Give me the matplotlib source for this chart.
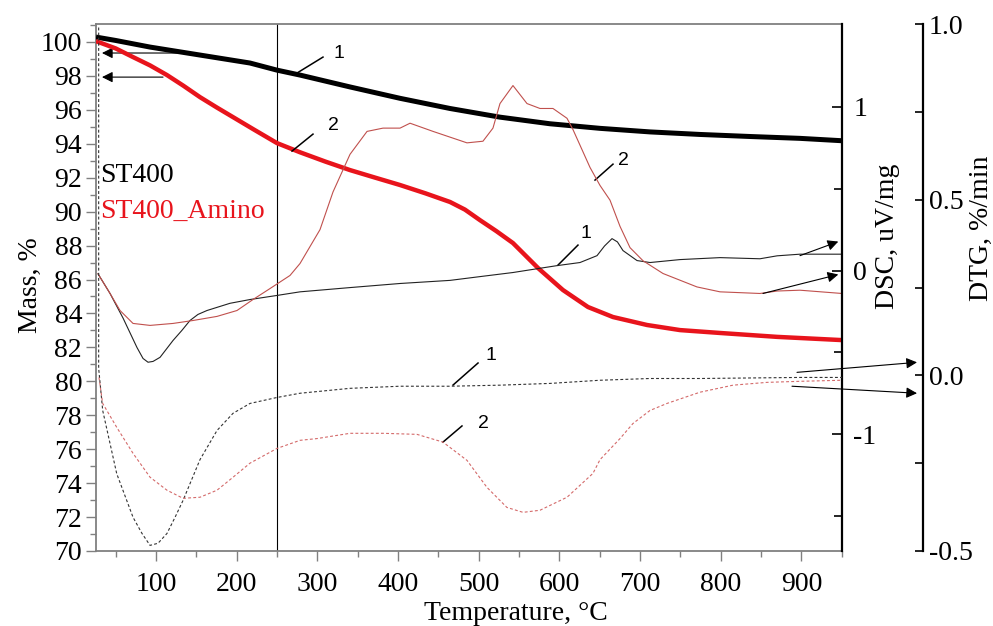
import numpy as np
import matplotlib.pyplot as plt
from matplotlib.ticker import MultipleLocator, FixedLocator, FormatStrFormatter

plt.rcParams['font.family'] = ['Liberation Serif', 'DejaVu Serif']
plt.rcParams['axes.unicode_minus'] = False

# ---- values ----
# mass (TG), %
temp_m1 = [25.6, 50, 92.6, 154.5, 216.5, 250, 278.5, 340.5, 402.5, 464.5, 526.4, 588.4, 650.4, 712.4, 774.4,
           836.3, 898.3, 950.4]
mass_st400 = [100.29, 100.09, 99.70, 99.23, 98.76, 98.34, 98.05, 97.35, 96.68, 96.08, 95.57, 95.18, 94.91, 94.70,
              94.55, 94.43, 94.32, 94.18]

temp_m2 = [25.6, 50, 71.5, 92.6, 113.6, 134, 154.5, 175, 195.5, 222, 250, 278.5, 310, 340.5, 372, 402.5, 434,
           464.5, 483, 501.6, 522, 542.5, 573.5, 604.5, 635.5, 666.5, 708.7, 749.6, 799.2, 870, 950.4]
mass_amino = [100.05, 99.62, 99.11, 98.62, 98.05, 97.42, 96.75, 96.15, 95.57, 94.82, 94.04, 93.50, 92.95, 92.45,
              92.00, 91.57, 91.08, 90.57, 90.12, 89.50, 88.85, 88.15, 86.68, 85.38, 84.38, 83.79, 83.32, 83.02,
              82.85, 82.62, 82.43]

# DSC, uV/mg
temp_dsc1 = [28.1, 43.0, 59.1, 76.4, 83.9, 90.1, 96.3, 105.0, 121.1, 132, 142.1, 152, 163.2, 191.7, 216.5, 250,
             278.5, 340.5, 402.5, 464.5, 501.6, 542.5, 573.5, 597, 625.6, 646.7, 656, 665.3, 672, 678.9, 696.3,
             712.4, 749.6, 799.2, 848.7, 870, 898.3, 950.4]
dsc_st400 = [-0.02, -0.14, -0.29, -0.47, -0.537, -0.56, -0.555, -0.53, -0.427, -0.366, -0.305, -0.268, -0.244,
             -0.20, -0.177, -0.152, -0.13, -0.104, -0.079, -0.06, -0.037, -0.012, 0.012, 0.03, 0.049, 0.091, 0.15,
             0.195, 0.175, 0.122, 0.061, 0.049, 0.067, 0.079, 0.072, 0.09, 0.10, 0.10]

temp_dsc2 = [28.1, 43.0, 55.4, 71.5, 92.6, 121.1, 145.9, 175.6, 200.4, 220.2, 241.3, 266.1, 278.5, 303.3,
             319.4, 340.5, 361.6, 381.4, 402.5, 414.9, 443.4, 485.5, 505.3, 517.7, 526.4, 542.5, 559.9,
             576, 592.1, 609.5, 617, 638, 650.4, 662.8, 675.2, 687.6, 703.7, 728.5, 770.6, 799.2, 848.7,
             870, 898.3, 950.4]
dsc_amino = [-0.02, -0.14, -0.244, -0.323, -0.335, -0.323, -0.305, -0.28, -0.244, -0.177, -0.11, -0.03, 0.043, 0.25,
             0.48, 0.71, 0.85, 0.87, 0.87, 0.90, 0.85, 0.78, 0.79, 0.87, 1.02, 1.13, 1.02,
             0.99, 0.99, 0.93, 0.86, 0.63, 0.52, 0.43, 0.27, 0.14, 0.06, -0.018, -0.10, -0.13, -0.14,
             -0.125, -0.12, -0.14]

# DTG, %/min
temp_dtg1 = [28.9, 28.9, 33.9, 51.3, 71.5, 82.6, 92.6, 102.5, 113.6, 123.6, 133.5, 154.5, 175.6, 195.5, 216.5,
             250, 278.5, 340.5, 402.5, 464.5, 526.4, 588.4, 650.4, 712.4, 774.4, 898.3, 950.4]
dtg_st400 = [0.99, 0.02, -0.10, -0.28, -0.404, -0.45, -0.484, -0.478, -0.45, -0.404, -0.356, -0.24, -0.157,
             -0.108, -0.08, -0.063, -0.051, -0.037, -0.031, -0.031, -0.028, -0.023, -0.014, -0.009, -0.009,
             -0.006, -0.006]

temp_dtg2 = [29.3, 33.9, 51.3, 71.5, 92.6, 113.6, 133.5, 154.5, 175.6, 195.5, 216.5, 250, 278.5, 299.6,
             340.5, 381.4, 423.5, 455.7, 485.5, 510.3, 535, 555, 576, 609.5, 641.7, 650.4, 675.2, 691.3,
             712.4, 733.4, 774.4, 815.3, 857.5, 898.3, 950.4]
dtg_amino = [-0.006, -0.08, -0.148, -0.222, -0.29, -0.327, -0.35, -0.347, -0.327, -0.29, -0.25, -0.208, -0.185, -0.18,
             -0.165, -0.165, -0.168, -0.19, -0.242, -0.319, -0.376, -0.39, -0.384, -0.347, -0.279, -0.24, -0.18, -0.137,
             -0.10, -0.08, -0.048, -0.028, -0.02, -0.017, -0.014]

black = '#000000'
red_thick = '#e8141c'
red_thin = '#c0504d'
red_dash = '#d46a6a'
grey = '#808080'
fs = 20

fig = plt.figure(figsize=(9.93, 6.26), dpi=100)
ax = fig.add_axes([96 / 993, 75 / 626, 746 / 993, 527 / 626])
ax2 = ax.twinx()
ax3 = ax.twinx()

# mass
ax.plot(temp_m1, mass_st400, color=black, lw=3.6, solid_capstyle='butt', solid_joinstyle='round', zorder=5)
ax.plot(temp_m2, mass_amino, color=red_thick, lw=3.2, solid_capstyle='butt', solid_joinstyle='round', zorder=5)
ax.axvline(250, color=black, lw=0.8)
ax.set_xlim(25.6, 950.4)
ax.set_ylim(70, 101.06)
ax.xaxis.set_major_locator(MultipleLocator(100))
ax.xaxis.set_minor_locator(MultipleLocator(50))
ax.yaxis.set_major_locator(MultipleLocator(2))
ax.yaxis.set_minor_locator(MultipleLocator(1))
ax.tick_params(which='both', direction='out', color=grey, width=1, labelsize=fs)
ax.tick_params(which='major', length=7)
ax.tick_params(which='minor', length=4)
ax.tick_params(axis='y', pad=3)
ax.tick_params(axis='x', pad=8)
for s in ['left', 'bottom', 'top']:
    ax.spines[s].set_color(grey)
    ax.spines[s].set_linewidth(1.3)
ax.spines['right'].set_visible(False)

# DSC
ax2.plot(temp_dsc1, dsc_st400, color='#222222', lw=0.8)
ax2.plot(temp_dsc2, dsc_amino, color=red_thin, lw=0.8)
ax2.set_ylim(-1.713, 1.506)
ax2.yaxis.set_major_locator(FixedLocator([-1, 0, 1]))
ax2.yaxis.set_minor_locator(FixedLocator([-1.5, -0.5, 0.5]))
ax2.tick_params(which='both', direction='in', color=black, width=1.2, labelsize=fs, pad=8)
ax2.tick_params(which='major', length=7)
ax2.tick_params(which='minor', length=6)
for s in ['left', 'bottom', 'top']:
    ax2.spines[s].set_visible(False)
ax2.spines['right'].set_linewidth(1.6)

# DTG
ax3.plot(temp_dtg1, dtg_st400, color='#333333', lw=0.8, dashes=(2.6, 2))
ax3.plot(temp_dtg2, dtg_amino, color=red_dash, lw=0.8, dashes=(2.6, 2))
ax3.set_ylim(-0.5, 1.0)
ax3.spines['right'].set_position(('axes', (923 - 96) / 746))
ax3.yaxis.set_major_locator(FixedLocator([-0.5, 0.0, 0.5, 1.0]))
ax3.yaxis.set_minor_locator(FixedLocator([-0.25, 0.25, 0.75]))
ax3.yaxis.set_major_formatter(FormatStrFormatter('%.1f'))
ax3.tick_params(which='both', direction='in', color=black, width=1.2, labelsize=fs, pad=4, length=6)
for s in ['left', 'bottom', 'top']:
    ax3.spines[s].set_visible(False)
ax3.spines['right'].set_linewidth(1.6)

# axis titles
fig.text(30 / 993, 1 - 285 / 626, 'Mass, %', rotation=90, ha='center', va='center', fontsize=fs)
fig.text(888 / 993, 1 - 236 / 626, 'DSC, uV/mg', rotation=90, ha='center', va='center', fontsize=fs)
fig.text(981 / 993, 1 - 228 / 626, 'DTG, %/min', rotation=90, ha='center', va='center', fontsize=fs)
fig.text(516 / 993, 1 - 613 / 626, 'Temperature, °C', ha='center', va='center', fontsize=fs)

# sample names
ax.text(30.2, 91.74, 'ST400', color=black, fontsize=fs, va='baseline')
ax.text(30.2, 89.62, 'ST400_Amino', color=red_thick, fontsize=fs, va='baseline')

# curve numbers with leader lines (mass-axis coordinates)
leaders = [
    ((274.8, 98.17), (307.0, 99.11), (326.9, 99.35), '1'),
    ((268.6, 93.57), (294.6, 94.57), (319.4, 95.10), '2'),
    ((644.2, 91.86), (666.5, 92.80), (678.9, 93.04), '2'),
    ((598.3, 86.85), (623.1, 88.03), (633.0, 88.74), '1'),
    ((468.2, 79.78), (499.2, 81.08), (515.3, 81.55), '1'),
    ((455.8, 76.42), (479.3, 77.37), (505.4, 77.54), '2'),
]
for p0, p1, pt, lab in leaders:
    ax.plot([p0[0], p1[0]], [p0[1], p1[1]], color=black, lw=1.1, zorder=6)
    ax.text(pt[0], pt[1], lab, family=['Liberation Sans', 'DejaVu Sans'], fontsize=14,
            ha='center', va='center', zorder=6)

arrow = dict(arrowstyle='-|>', color=black, lw=0.8, mutation_scale=16, shrinkA=0, shrinkB=0)
# to the mass axis
ax.annotate('', xy=(33, 99.35), xytext=(126, 99.35), arrowprops=arrow)
ax.annotate('', xy=(33, 97.93), xytext=(108.7, 97.93), arrowprops=arrow)
# to the DSC axis
ax2.annotate('', xy=(945.8, 0.177), xytext=(898.3, 0.091), arrowprops=arrow)
ax2.annotate('', xy=(945.8, -0.024), xytext=(852.4, -0.14), arrowprops=arrow)
# to the DTG axis
ax3.annotate('', xy=(1043.4, 0.037), xytext=(894.6, 0.0085), arrowprops=arrow, annotation_clip=False)
ax3.annotate('', xy=(1043.4, -0.051), xytext=(888.4, -0.031), arrowprops=arrow, annotation_clip=False)

fig.savefig('out.png', dpi=100)
